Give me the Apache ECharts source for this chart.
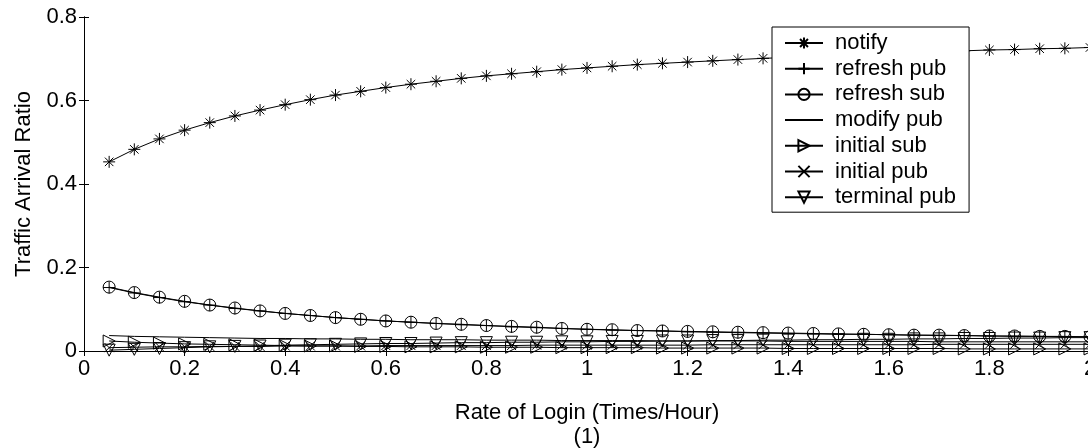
<!DOCTYPE html>
<html>
<head>
<meta charset="utf-8">
<script src="https://cdn.jsdelivr.net/npm/echarts@6/dist/echarts.min.js"></script>
<style>
html,body{margin:0;padding:0;background:#fff;}
#chart{width:1088px;height:448px;}
</style>
</head>
<body>
<div id="chart"></div>
<script>
// x values: rate of login (times/hour)
const xValues = [0.05,0.10,0.15,0.20,0.25,0.30,0.35,0.40,0.45,0.50,
                 0.55,0.60,0.65,0.70,0.75,0.80,0.85,0.90,0.95,1.00,
                 1.05,1.10,1.15,1.20,1.25,1.30,1.35,1.40,1.45,1.50,
                 1.55,1.60,1.65,1.70,1.75,1.80,1.85,1.90,1.95,2.00];

const notify = [0.453,0.483,0.508,0.529,0.547,0.563,0.577,0.590,0.602,0.613,
                0.622,0.631,0.639,0.646,0.653,0.659,0.664,0.669,0.674,0.678,
                0.682,0.686,0.689,0.692,0.695,0.698,0.701,0.703,0.706,0.708,
                0.710,0.712,0.714,0.717,0.719,0.721,0.722,0.724,0.725,0.727];

const refreshPub = [0.152,0.139,0.128,0.118,0.110,0.102,0.096,0.090,0.085,0.080,
                    0.076,0.072,0.069,0.066,0.063,0.061,0.058,0.056,0.054,0.052,
                    0.050,0.049,0.048,0.046,0.045,0.044,0.043,0.042,0.041,0.040,
                    0.040,0.039,0.038,0.037,0.037,0.036,0.035,0.035,0.034,0.034];

const refreshSub = [0.153,0.140,0.129,0.119,0.110,0.103,0.096,0.090,0.085,0.080,
                    0.076,0.072,0.069,0.066,0.064,0.061,0.059,0.057,0.054,0.052,
                    0.051,0.049,0.048,0.047,0.046,0.045,0.044,0.043,0.042,0.041,
                    0.040,0.039,0.038,0.038,0.037,0.036,0.036,0.035,0.035,0.034];

const modifyPub = [0.037,0.035,0.034,0.033,0.032,0.031,0.030,0.030,0.029,0.029,
                   0.028,0.028,0.027,0.027,0.027,0.026,0.026,0.026,0.025,0.025,
                   0.025,0.025,0.024,0.024,0.024,0.024,0.024,0.023,0.023,0.023,
                   0.023,0.023,0.023,0.022,0.022,0.022,0.022,0.022,0.022,0.022];

const initialSub = [0.024,0.021,0.019,0.017,0.016,0.015,0.014,0.013,0.012,0.012,
                    0.011,0.011,0.010,0.010,0.010,0.009,0.009,0.009,0.008,0.008,
                    0.008,0.008,0.007,0.007,0.007,0.007,0.007,0.006,0.006,0.006,
                    0.006,0.006,0.006,0.006,0.005,0.005,0.005,0.005,0.005,0.005];

const initialPub = [0.008,0.009,0.010,0.010,0.011,0.011,0.011,0.012,0.012,0.012,
                    0.012,0.013,0.013,0.013,0.013,0.013,0.013,0.014,0.014,0.014,
                    0.014,0.014,0.014,0.014,0.015,0.015,0.015,0.015,0.015,0.015,
                    0.015,0.015,0.015,0.016,0.016,0.016,0.016,0.016,0.016,0.016];

const terminalPub = [0.002,0.004,0.006,0.008,0.010,0.011,0.012,0.014,0.015,0.016,
                     0.017,0.018,0.018,0.019,0.020,0.020,0.021,0.021,0.022,0.022,
                     0.023,0.023,0.024,0.024,0.025,0.025,0.026,0.026,0.027,0.027,
                     0.028,0.028,0.029,0.029,0.030,0.030,0.031,0.031,0.032,0.032];

const seriesNames = ['notify','refresh pub','refresh sub','modify pub','initial sub','initial pub','terminal pub'];
const seriesValues = [notify, refreshPub, refreshSub, modifyPub, initialSub, initialPub, terminalPub];

const xTicks = {min: 0, max: 2, interval: 0.2};
const yTicks = {min: 0, max: 0.8, interval: 0.2};

const FONT = "'Liberation Sans', Arial, sans-serif";
const FS = 22;

const symbols = [
  'path://M5 0L5 10M0 5L10 5M1.46 1.46L8.54 8.54M1.46 8.54L8.54 1.46',
  'path://M5 0L5 10M0 5L10 5',
  'circle',
  'circle',
  'path://M0 0L10 5L0 10Z',
  'path://M0 0L10 10M0 10L10 0',
  'path://M0 0L10 0L5 10Z'
];
const symbolSizes = [12, 12, 12, 0, 12, 9, 12];

const series = seriesNames.map((name, i) => ({
  name: name,
  type: 'line',
  data: xValues.map((x, j) => [x, seriesValues[i][j]]),
  symbol: symbols[i],
  symbolSize: symbolSizes[i],
  showSymbol: symbolSizes[i] > 0,
  lineStyle: {color: '#000', width: 1},
  itemStyle: {color: 'rgba(255,255,255,0)', borderColor: '#000', borderWidth: 1},
  emphasis: {disabled: true},
  z: 2 + i
}));

const legendData = seriesNames.map((name, i) => symbolSizes[i] > 0 ? {name: name} :
  {name: name, itemStyle: {color: 'rgba(255,255,255,0)', borderColor: 'rgba(255,255,255,0)', borderWidth: 0}});

const axisCommon = {
  axisLine: {show: true, lineStyle: {color: '#000', width: 1}},
  axisTick: {show: true, inside: true, length: 5, lineStyle: {color: '#000'}},
  splitLine: {show: false}
};

const option = {
  animation: false,
  backgroundColor: '#fff',
  textStyle: {fontFamily: FONT},
  grid: {left: 84, right: -2, top: 17, bottom: 97, containLabel: false, outerBoundsMode: 'none'},
  legend: {
    orient: 'vertical',
    left: 772,
    top: 27,
    padding: [5, 13, 4, 12],
    backgroundColor: '#fff',
    borderColor: '#000',
    borderWidth: 1,
    borderRadius: 0,
    itemWidth: 38,
    itemHeight: 14,
    itemGap: 3.7,
    selectedMode: false,
    textStyle: {fontFamily: FONT, fontSize: FS, color: '#000', lineHeight: 22, padding: [0, 0, 0, 7]},
    data: legendData,
    z: 20
  },
  xAxis: [
    Object.assign({
      type: 'value', position: 'bottom',
      min: xTicks.min, max: xTicks.max, interval: xTicks.interval,
      axisLabel: {fontFamily: FONT, fontSize: FS, color: '#000', margin: 7},
      name: 'Rate of Login (Times/Hour)\n(1)',
      nameLocation: 'middle',
      nameGap: 50,
      nameTextStyle: {fontFamily: FONT, fontSize: FS, color: '#000', lineHeight: 24}
    }, axisCommon),
    Object.assign({
      type: 'value', position: 'top',
      min: xTicks.min, max: xTicks.max, interval: xTicks.interval,
      axisLabel: {show: false}
    }, axisCommon)
  ],
  yAxis: [
    Object.assign({
      type: 'value', position: 'left',
      min: yTicks.min, max: yTicks.max, interval: yTicks.interval,
      axisLabel: {fontFamily: FONT, fontSize: FS, color: '#000', margin: 7},
      name: 'Traffic Arrival Ratio',
      nameLocation: 'middle',
      nameGap: 49,
      nameTextStyle: {fontFamily: FONT, fontSize: FS, color: '#000'}
    }, axisCommon),
    Object.assign({
      type: 'value', position: 'right',
      min: yTicks.min, max: yTicks.max, interval: yTicks.interval,
      axisLabel: {show: false}
    }, axisCommon)
  ],
  series: series
};

const chart = echarts.init(document.getElementById('chart'), null, {renderer: 'canvas'});
chart.setOption(option);
</script>
</body>
</html>
